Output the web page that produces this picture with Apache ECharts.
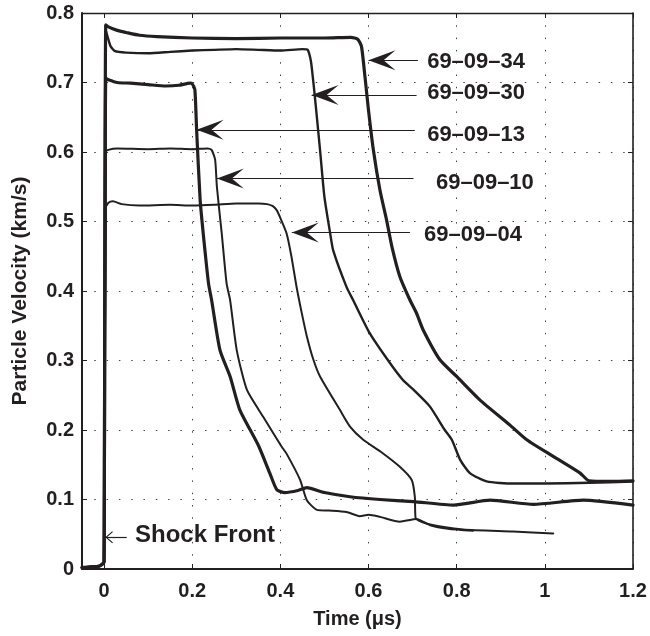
<!DOCTYPE html>
<html><head><meta charset="utf-8">
<script src="https://cdn.jsdelivr.net/npm/echarts@6/dist/echarts.min.js"></script>
<style>html,body{margin:0;padding:0;background:#fff}#c{width:650px;height:636px}</style>
</head><body><div id="c"></div>
<script>
// ---- data (time in µs, particle velocity in km/s) ----
const xTicks = [0, 0.2, 0.4, 0.6, 0.8, 1, 1.2];
const yTicks = [0, 0.1, 0.2, 0.3, 0.4, 0.5, 0.6, 0.7, 0.8];
const seriesNames = ['69–09–34', '69–09–30', '69–09–13', '69–09–10', '69–09–04'];
const preShock = [[-0.05, 0.002], [-0.03, 0.003], [-0.012, 0.004], [-0.004, 0.007], [0.0, 0.01]];

const s34 = [[0.004, 0.783], [0.01, 0.780], [0.03, 0.775], [0.05, 0.772], [0.08, 0.768], [0.12, 0.766],
  [0.2, 0.764], [0.3, 0.763], [0.4, 0.764], [0.5, 0.764], [0.56, 0.765], [0.576, 0.762], [0.584, 0.752],
  [0.592, 0.708], [0.6, 0.66], [0.611, 0.603], [0.626, 0.545], [0.641, 0.502], [0.653, 0.464],
  [0.671, 0.421], [0.694, 0.387], [0.709, 0.368], [0.724, 0.344], [0.762, 0.301], [0.80, 0.277],
  [0.853, 0.243], [0.921, 0.207], [0.959, 0.186], [1.019, 0.162], [1.08, 0.138], [1.1, 0.127],
  [1.15, 0.126], [1.2, 0.127]];

const s30 = [[0.004, 0.775], [0.008, 0.766], [0.015, 0.752], [0.025, 0.745], [0.05, 0.743], [0.1, 0.742],
  [0.15, 0.744], [0.2, 0.746], [0.25, 0.747], [0.3, 0.748], [0.35, 0.747], [0.4, 0.746], [0.45, 0.748],
  [0.462, 0.747], [0.468, 0.735], [0.471, 0.723], [0.479, 0.675], [0.49, 0.603], [0.50, 0.535],
  [0.513, 0.483], [0.52, 0.458], [0.55, 0.406], [0.565, 0.387], [0.603, 0.339], [0.649, 0.296],
  [0.678, 0.272], [0.702, 0.258], [0.739, 0.234], [0.773, 0.2], [0.789, 0.186], [0.808, 0.157],
  [0.83, 0.138], [0.868, 0.126], [0.928, 0.123], [1.0, 0.123], [1.1, 0.124], [1.2, 0.126]];

const s13 = [[0.004, 0.706], [0.01, 0.704], [0.03, 0.700], [0.06, 0.699], [0.1, 0.697], [0.14, 0.695],
  [0.17, 0.696], [0.195, 0.699], [0.2, 0.698], [0.206, 0.69], [0.21, 0.632], [0.218, 0.531],
  [0.225, 0.483], [0.237, 0.411], [0.244, 0.387], [0.263, 0.315], [0.286, 0.277], [0.308, 0.229],
  [0.35, 0.178], [0.376, 0.138], [0.392, 0.114], [0.41, 0.11], [0.44, 0.113], [0.46, 0.117],
  [0.5, 0.11], [0.558, 0.104], [0.626, 0.1], [0.702, 0.097], [0.793, 0.092], [0.876, 0.099],
  [0.974, 0.093], [1.087, 0.099], [1.2, 0.092]];

const s10 = [[0.004, 0.600], [0.01, 0.603], [0.03, 0.605], [0.1, 0.604], [0.15, 0.605], [0.2, 0.604],
  [0.235, 0.605], [0.244, 0.603], [0.252, 0.589], [0.256, 0.55], [0.267, 0.483], [0.278, 0.411],
  [0.286, 0.387], [0.301, 0.315], [0.324, 0.258], [0.361, 0.219], [0.403, 0.176], [0.414, 0.166],
  [0.445, 0.128], [0.46, 0.099], [0.483, 0.085], [0.51, 0.084], [0.55, 0.082], [0.58, 0.076],
  [0.6, 0.078], [0.626, 0.075], [0.671, 0.068], [0.709, 0.072], [0.74, 0.063], [0.78, 0.058],
  [0.837, 0.055]];

const s04 = [[0.004, 0.520], [0.01, 0.527], [0.02, 0.529], [0.04, 0.525], [0.08, 0.523], [0.15, 0.524],
  [0.2, 0.523], [0.25, 0.524], [0.3, 0.526], [0.35, 0.526], [0.37, 0.525], [0.383, 0.522],
  [0.392, 0.516], [0.40, 0.505], [0.414, 0.483], [0.425, 0.45], [0.437, 0.405], [0.448, 0.37],
  [0.46, 0.335], [0.475, 0.301], [0.49, 0.277], [0.535, 0.229], [0.558, 0.205], [0.588, 0.186],
  [0.627, 0.169], [0.671, 0.147], [0.698, 0.128], [0.705, 0.104], [0.707, 0.073], [0.74, 0.064],
  [0.815, 0.057], [0.928, 0.054], [1.019, 0.051]];

// annotation anchors (data coordinates): arrow tail, arrow tip, label anchor
const annTails = [[0.712, 0.732], [0.709, 0.682], [0.705, 0.632], [0.702, 0.562], [0.694, 0.484]];
const annTips = [[0.60, 0.732], [0.471, 0.682], [0.210, 0.632], [0.256, 0.562], [0.426, 0.484]];
const annText = [[0.733, 0.7295], [0.733, 0.6845], [0.733, 0.6245], [0.753, 0.555], [0.726, 0.4806]];
const shockText = 'Shock Front';
const shockTail = [0.0514, 0.0456];
const shockTip = [0.003, 0.0456];
const shockTextPos = [0.0702, 0.048];

// ---- chart ----
const INK = '#231f20';
const FONT = 'Liberation Sans, Arial, Helvetica, sans-serif';
const barb = 'path://M0,0L10,27L0,15L-10,27Z';
const chevron = 'path://M0,0L6,6.8L5.2,7.6L0,1.6L-5.2,7.6L-6,6.8Z';
const allData = [s34, s30, s13, s10, s04];
const widths = [3.2, 2.4, 3.2, 2, 2];

const series = allData.map((d, i) => ({
  name: seriesNames[i], type: 'line', data: preShock.concat(d),
  symbol: 'none', showSymbol: false, animation: false, silent: true,
  smooth: 0.2,
  lineStyle: { color: INK, width: widths[i], join: 'round', cap: 'round' }, z: 3
}));

series[0].markLine = {
  silent: true, animation: false,
  symbol: ['none', barb], symbolSize: [20, 27], symbolOffset: [0, [0, '50%']],
  lineStyle: { color: INK, width: 1.2, type: 'solid' },
  itemStyle: { color: INK },
  label: { show: false },
  emphasis: { disabled: true },
  data: annTails.map((t, i) => [{ coord: t }, { coord: annTips[i] }]).concat([[
    { coord: shockTail },
    { coord: shockTip, symbol: chevron, symbolSize: [12, 7.6] }
  ]])
};
series[0].markPoint = {
  silent: true, animation: false, symbol: 'circle', symbolSize: 0,
  label: { show: true, position: 'right', distance: 0, color: INK, fontSize: 22, fontWeight: 'bold',
    fontFamily: FONT, formatter: p => p.name },
  data: annText.map((p, i) => ({ name: seriesNames[i], coord: p }))
    .concat([{ name: shockText, coord: shockTextPos, label: { fontSize: 24 } }])
};

const labelStyle = { color: INK, fontSize: 20, fontWeight: 'bold', fontFamily: FONT };
const dotted = { show: true, lineStyle: { color: '#444', width: 1, type: [1.5, 10.8] } };

const option = {
  backgroundColor: '#fff',
  animation: false,
  grid: { left: 82, right: 17, top: 13, bottom: 67, containLabel: false },
  xAxis: [{
    type: 'value', min: -0.05, max: 1.2, position: 'bottom',
    name: 'Time (μs)', nameLocation: 'middle', nameGap: 40,
    nameTextStyle: { color: INK, fontSize: 20, fontWeight: 'bold', fontFamily: FONT },
    axisLine: { show: true, onZero: false, lineStyle: { color: INK, width: 2 } },
    axisTick: { show: true, inside: true, length: 5, customValues: xTicks, lineStyle: { color: INK, width: 1 } },
    axisLabel: { customValues: xTicks, margin: 12, ...labelStyle, formatter: v => String(+v.toFixed(2)) },
    splitLine: dotted
  }, {
    type: 'value', min: -0.05, max: 1.2, position: 'top',
    axisLine: { show: true, onZero: false, lineStyle: { color: INK, width: 1.3 } },
    axisTick: { show: true, inside: true, length: 5, customValues: xTicks, lineStyle: { color: INK, width: 1 } },
    axisLabel: { show: false }, splitLine: { show: false }
  }],
  yAxis: [{
    type: 'value', min: 0, max: 0.8, interval: 0.1, position: 'left',
    name: 'Particle Velocity (km/s)', nameLocation: 'middle', nameGap: 51,
    nameTextStyle: { color: INK, fontSize: 21, fontWeight: 'bold', fontFamily: FONT },
    axisLine: { show: true, onZero: false, lineStyle: { color: INK, width: 2 } },
    axisTick: { show: true, inside: true, length: 5, lineStyle: { color: INK, width: 1 } },
    axisLabel: { margin: 8, ...labelStyle, formatter: v => v === 0 ? '0' : v.toFixed(1) },
    splitLine: dotted
  }, {
    type: 'value', min: 0, max: 0.8, interval: 0.1, position: 'right',
    axisLine: { show: true, onZero: false, lineStyle: { color: INK, width: 1.6 } },
    axisTick: { show: true, inside: true, length: 5, lineStyle: { color: INK, width: 1 } },
    axisLabel: { show: false }, splitLine: { show: false }
  }],
  series: series
};

const chart = echarts.init(document.getElementById('c'), null, { renderer: 'canvas' });
chart.setOption(option);
</script></body></html>
